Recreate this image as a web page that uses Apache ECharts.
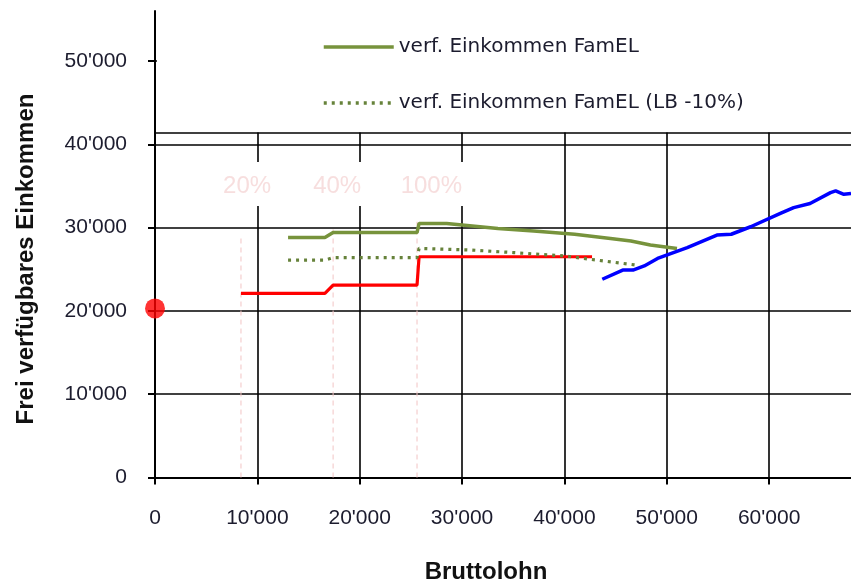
<!DOCTYPE html>
<html><head><meta charset="utf-8">
<script src="https://cdn.jsdelivr.net/npm/echarts@6/dist/echarts.min.js"></script>
<style>html,body{margin:0;padding:0;background:#fff}#c{width:851px;height:582px}</style>
</head><body><div id="c"></div>
<script>
// ---- data ----
const xTicks = [0, 10000, 20000, 30000, 40000, 50000, 60000];
const yTicks = [0, 10000, 20000, 30000, 40000, 50000];
const legendNames = ['verf. Einkommen FamEL', 'verf. Einkommen FamEL (LB -10%)'];
const redLine = [[8400,22100],[16600,22100],[17400,23100],[25600,23100],[25800,26500],[42700,26500]];
const greenSolid = [[13000,28800],[16600,28800],[17400,29400],[25600,29400],[25800,30500],[28500,30500],[31000,30200],[33500,29900],[37000,29600],[41000,29200],[44500,28700],[46500,28400],[48400,27900],[51000,27500]];
const greenDotted = [[13000,26100],[16600,26100],[17400,26400],[25600,26400],[25800,27500],[31000,27300],[35000,27000],[40000,26600],[42500,26200],[47000,25500]];
const blueLine = [[43700,23800],[45700,24900],[46700,24900],[47800,25400],[49100,26300],[52000,27600],[54900,29100],[56300,29200],[58200,30100],[61100,31700],[62400,32400],[64000,32900],[66000,34200],[66500,34400],[67300,34000],[68000,34100]];
const startPoint = [[0,20300]];
const thresholdX = [8400, 17400, 25600];
const thresholdTop = [28800, 30100, 30700];
const pctLabels = ['20%', '40%', '100%'];
const pctLabelX = [9000, 17800, 27000];
const pctLabelY = 35000;

const fmt = v => String(v).replace(/\B(?=(\d{3})+(?!\d))/g, "'");
const chart = echarts.init(document.getElementById('c'), null, {renderer: 'canvas'});
const labelStyle = {color: '#1c1c2e', fontFamily: 'Liberation Sans', fontSize: 21};

const thresholdSeries = thresholdX.map((x, i) => ({
  type: 'line', data: [[x, 0], [x, thresholdTop[i]]], symbol: 'none', silent: true, z: 1,
  lineStyle: {color: '#f2c4c4', width: 1, type: [5, 4]}
}));

chart.setOption({
  animation: false,
  backgroundColor: '#fff',
  grid: {left: 155, right: 0, top: 11, bottom: 104.5},
  xAxis: {
    type: 'value', min: 0, max: 68000, interval: 10000,
    axisLine: {lineStyle: {color: '#000', width: 2}},
    axisTick: {show: true, length: 7, lineStyle: {color: '#000', width: 2}, customValues: xTicks},
    axisLabel: Object.assign({formatter: fmt, margin: 30, customValues: xTicks}, labelStyle),
    splitLine: {show: true, lineStyle: {color: '#000', width: 1.6}}
  },
  yAxis: {
    type: 'value', min: 0, max: 56000, interval: 10000,
    axisLine: {show: true, lineStyle: {color: '#000', width: 2}},
    axisTick: {show: true, length: 7, lineStyle: {color: '#000', width: 2}, customValues: yTicks},
    axisLabel: Object.assign({formatter: fmt, margin: 28, customValues: yTicks}, labelStyle),
    splitLine: {show: true, lineStyle: {color: '#000', width: 1.6}}
  },
  legend: {
    orient: 'vertical', left: 317, top: 32, z: 20,
    data: legendNames, itemWidth: 70, itemHeight: 20, itemGap: 36,
    itemStyle: {opacity: 0},
    lineStyle: {width: 3.5},
    textStyle: {fontFamily: 'DejaVu Sans', fontSize: 20, color: '#1c1c2e'}
  },
  graphic: [
    {type: 'rect', z: 15, silent: true, shape: {x: 157, y: -5, width: 720, height: 137.5}, style: {fill: '#fff'}},
    {type: 'line', z: 15, silent: true, shape: {x1: 154, y1: 133, x2: 860, y2: 133}, style: {stroke: '#000', lineWidth: 1.6}},
    {type: 'rect', z: 1, silent: true, shape: {x: 157, y: 162, width: 321, height: 44}, style: {fill: '#fff'}},
    {type: 'text', z: 20, silent: true, x: 26, y: 259, rotation: Math.PI / 2,
      style: {text: 'Frei verfügbares Einkommen', fontFamily: 'Liberation Sans', fontWeight: 'bold', fontSize: 24, fill: '#111', align: 'center', verticalAlign: 'middle'}},
    {type: 'text', z: 20, silent: true, x: 486, y: 572,
      style: {text: 'Bruttolohn', fontFamily: 'Liberation Sans', fontWeight: 'bold', fontSize: 24, fill: '#111', align: 'center', verticalAlign: 'middle'}}
  ],
  series: thresholdSeries.concat([
    {name: 'red', type: 'line', data: redLine, symbol: 'none', z: 3, lineStyle: {color: '#ff0000', width: 3.2}},
    {name: legendNames[0], type: 'line', data: greenSolid, symbol: 'none', z: 3, color: '#77933c', lineStyle: {color: '#77933c', width: 3.5}},
    {name: legendNames[1], type: 'line', data: greenDotted, symbol: 'none', z: 3, color: '#66823a', lineStyle: {color: '#66823a', width: 3.2, type: [3, 5]}},
    {name: 'blue', type: 'line', data: blueLine, symbol: 'none', z: 3, lineStyle: {color: '#0000ff', width: 3.5}},
    {name: 'start', type: 'scatter', data: startPoint, symbolSize: 20, clip: false, z: 5, itemStyle: {color: '#ff0000'}},
    {name: 'pct', type: 'scatter', symbolSize: 0, z: 4, silent: true,
      data: pctLabels.map((t, i) => ({value: [pctLabelX[i], pctLabelY], name: t})),
      label: {show: true, position: 'inside', formatter: p => p.name, color: '#f5d6d6', fontFamily: 'Liberation Sans', fontSize: 24}}
  ])
});
</script></body></html>
